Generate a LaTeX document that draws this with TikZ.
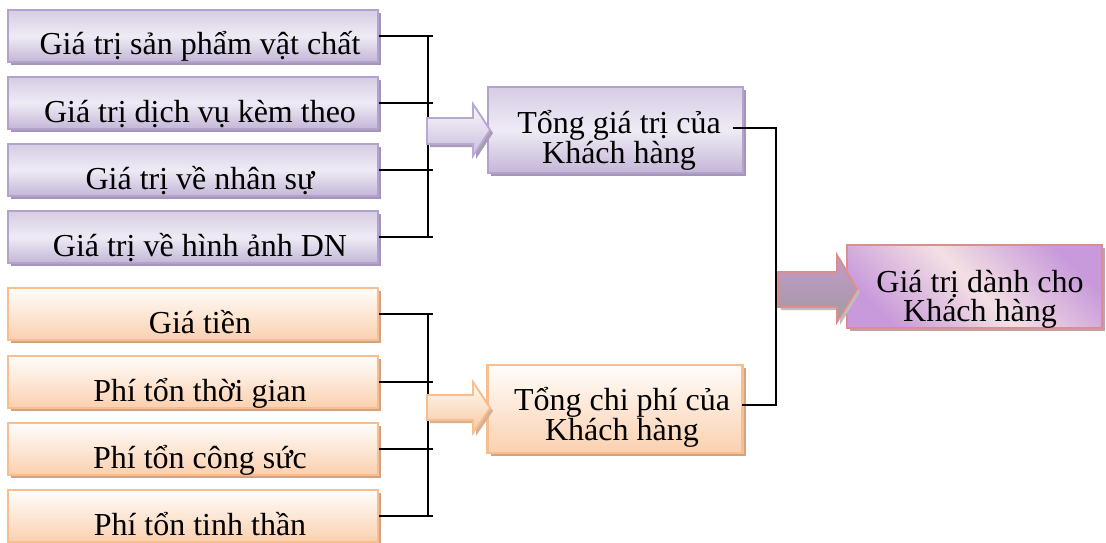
\documentclass[tikz,border=0pt]{standalone}
\usepackage{fontspec}
\setmainfont{Liberation Serif}
% value (purple) palette
\definecolor{valtop}{HTML}{D6CCE4}
\definecolor{valmid}{HTML}{EFEBF5}
\definecolor{valbot}{HTML}{C4B6D7}
\definecolor{valline}{HTML}{B3A2CC}
\definecolor{valshadow}{HTML}{A595BA}
% cost (orange) palette
\definecolor{costtop}{HTML}{FFFDFB}
\definecolor{costbot}{HTML}{FBD0AF}
\definecolor{costline}{HTML}{F9BE8E}
\definecolor{costshadow}{HTML}{D4A282}
% result palette
\definecolor{resline}{HTML}{DC8D8F}
\definecolor{respink}{HTML}{F3E0E3}
\definecolor{respurple}{HTML}{C89ADB}
\definecolor{resshadow}{HTML}{C4A0A6}
% block arrow palettes
\definecolor{vaLine}{HTML}{B9A8D3}
\definecolor{vaTop}{HTML}{FBF9FD}
\definecolor{vaBot}{HTML}{C9BCDD}
\definecolor{vaShadow}{HTML}{A89CB5}
\definecolor{caTop}{HTML}{FFFAF5}
\definecolor{caBot}{HTML}{F8C7A0}
\definecolor{caShadow}{HTML}{D9B090}
\definecolor{raLine}{HTML}{DE8C8C}
\definecolor{raTop}{HTML}{C799C9}
\definecolor{raBot}{HTML}{9E9BA4}
\definecolor{raShadow}{HTML}{BDBDBD}
\begin{document}
\begin{tikzpicture}[x=1pt,y=-1pt,
  every node/.style={font=\fontsize{32}{29}\selectfont},
  shadowed/.style={preaction={fill=#1,transform canvas={xshift=3pt,yshift=-3pt}}},
  itembox/.style={minimum width=370pt,minimum height=52pt,inner sep=0pt,
    text height=45pt,text depth=7pt,execute at begin node={\hspace*{14pt}}},
  valbox/.style={draw=valline,line width=2pt,top color=valtop,bottom color=valbot,
    middle color=valmid,shadowed=valshadow},
  costbox/.style={draw=costline,line width=2.4pt,top color=costtop,bottom color=costbot,
    shadowed=costshadow},
  sumbox/.style={minimum width=255pt,minimum height=86pt,inner sep=0pt},
  sumtext/.style={align=center,inner xsep=12pt,inner ysep=0pt},
  link/.style={draw=black,line width=1.6pt},
  blockarrow/.style={line width=1.8pt,line join=miter}
]
\useasboundingbox (0,0) rectangle (1106,543);

% value items
\node[itembox,valbox] (v1) at (193,36)  {Giá trị sản phẩm vật chất};
\node[itembox,valbox] (v2) at (193,103) {Giá trị dịch vụ kèm theo};
\node[itembox,valbox] (v3) at (193,170) {Giá trị về nhân sự};
\node[itembox,valbox] (v4) at (193,237) {Giá trị về hình ảnh DN};

% cost items
\node[itembox,costbox] (c1) at (193,314) {Giá tiền};
\node[itembox,costbox] (c2) at (193,382) {Phí tổn thời gian};
\node[itembox,costbox] (c3) at (193,449) {Phí tổn công sức};
\node[itembox,costbox] (c4) at (193,516) {Phí tổn tinh thần};

% totals
\node[sumbox,valbox] (tv) at (615.5,130) {};
\node[sumtext] (tvt) at (619,140) {Tổng giá trị của\\Khách hàng};
\node[sumbox,costbox,minimum height=88pt] (tc) at (615,409) {};
\node[sumtext] (tct) at (622,417) {Tổng chi phí của\\Khách hàng};

% customer value
\node[sumbox,minimum height=83pt,draw=resline,line width=2.4pt,
  top color=respurple,bottom color=respurple,middle color=respink,
  shading angle=-45,shadowed=resshadow] (rv) at (974.5,286.5) {};
\node[sumtext] (rvt) at (980,299) {Giá trị dành cho\\Khách hàng};

% bus bars
\coordinate (vbus) at (428,0);
\coordinate (vtick) at (433,0);
\coordinate (rt) at (776,128);
\coordinate (rb) at (776,405);

\foreach \n in {v1,v2,v3,v4,c1,c2,c3,c4}
  \draw[link] (\n.east) -- (\n.east -| vtick);
\draw[link] (v1.east -| vbus) -- (v4.east -| vbus);
\draw[link] (c1.east -| vbus) -- (c4.east -| vbus);
\draw[link] (tvt.east |- rt) -- (rt) -- (rb) -- (tct.east |- rb);

% block arrows
\draw[blockarrow,draw=vaLine,top color=vaTop,bottom color=vaBot,shadowed=vaShadow]
  (427,118) -- (473,118) -- (473,104) -- (490,130) -- (473,156) -- (473,144) -- (427,144) -- cycle;
\draw[blockarrow,draw=costline,top color=caTop,bottom color=caBot,shadowed=caShadow]
  (427,395) -- (473,395) -- (473,382) -- (490,408) -- (473,433) -- (473,420) -- (427,420) -- cycle;
\draw[blockarrow,draw=raLine,top color=raTop,bottom color=raBot,shadowed=raShadow]
  (778,272) -- (837,272) -- (837,255) -- (857,289) -- (837,322) -- (837,307) -- (778,307) -- cycle;
\end{tikzpicture}
\end{document}
